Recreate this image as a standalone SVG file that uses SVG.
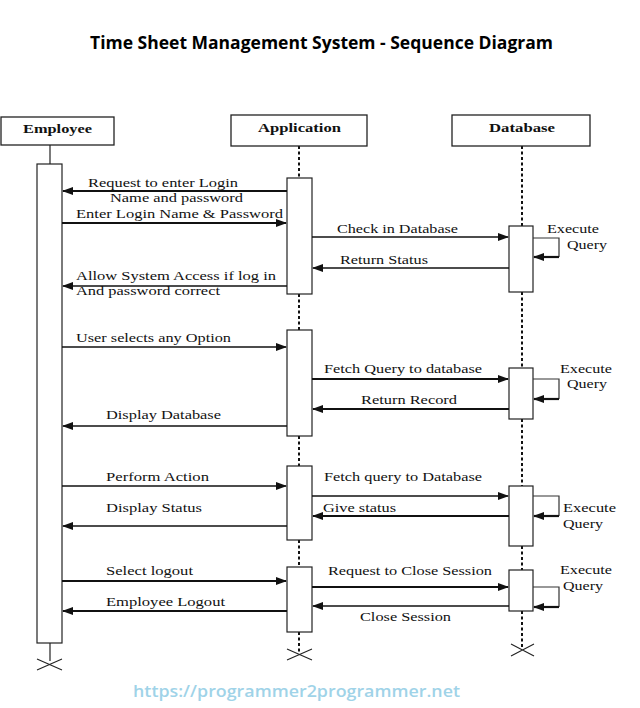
<svg xmlns="http://www.w3.org/2000/svg" width="640" height="708" viewBox="0 0 640 708">
<style>
.box{fill:#fff;stroke:#222;stroke-width:1.3}
.act{fill:#fff;stroke:#222;stroke-width:1.2}
.hdr{font-family:"Liberation Serif",serif;font-weight:bold;font-size:13px;fill:#111}
.lbl{font-family:"Liberation Serif",serif;font-size:13.5px;fill:#111}
.msg{stroke:#111;stroke-width:1.6;fill:none}
.msgb{stroke:#111;stroke-width:2.2;fill:none}
.loop{stroke:#333;stroke-width:1.2;fill:none}
.dash{stroke:#111;stroke-width:2;stroke-dasharray:3,2.5}
.solid{stroke:#222;stroke-width:1.2}
.x{stroke:#222;stroke-width:1.1}
</style>
<defs>
<marker id="ah" markerUnits="userSpaceOnUse" markerWidth="12" markerHeight="10" refX="10" refY="4" orient="auto">
<path d="M0,0 L11,4 L0,8 Z" fill="#111"/>
</marker>
</defs>
<rect width="640" height="708" fill="#fff"/>
<text x="321.5" y="49" text-anchor="middle" font-family="'Open Sans','Liberation Sans',sans-serif" font-weight="bold" font-size="17" textLength="463" lengthAdjust="spacingAndGlyphs" fill="#000">Time Sheet Management System - Sequence Diagram</text>

<g id="lifelines">
<line class="solid" x1="50" y1="145" x2="50" y2="164"/>
<line class="solid" x1="50" y1="643" x2="50" y2="661"/>
<line class="dash" x1="299" y1="146" x2="299" y2="178"/>
<line class="dash" x1="299" y1="294" x2="299" y2="330"/>
<line class="dash" x1="299" y1="436" x2="299" y2="466"/>
<line class="dash" x1="299" y1="540" x2="299" y2="567"/>
<line class="dash" x1="299" y1="632" x2="299" y2="654"/>
<line class="dash" x1="522" y1="146" x2="522" y2="226"/>
<line class="dash" x1="522" y1="292" x2="522" y2="368"/>
<line class="dash" x1="522" y1="419" x2="522" y2="486"/>
<line class="dash" x1="522" y1="546" x2="522" y2="570"/>
<line class="dash" x1="522" y1="611" x2="522" y2="648"/>
<path class="x" d="M37,659 L62,670 M37,670 L62,659"/>
<path class="x" d="M287,649 L312,660 M287,660 L312,649"/>
<path class="x" d="M511,644 L534,656 M511,656 L534,644"/>
</g>

<g id="employee">
<rect class="box" x="1" y="117" width="113" height="28"/>
<text class="hdr" x="57.5" y="133" text-anchor="middle" textLength="69" lengthAdjust="spacingAndGlyphs">Employee</text>
<rect class="act" x="37" y="164" width="25" height="479"/>
</g>

<g id="application">
<rect class="box" x="231" y="115" width="136" height="31"/>
<text class="hdr" x="299.5" y="132" text-anchor="middle" textLength="83" lengthAdjust="spacingAndGlyphs">Application</text>
<rect class="act" x="287" y="178" width="25" height="116"/>
<rect class="act" x="287" y="330" width="25" height="106"/>
<rect class="act" x="287" y="466" width="25" height="74"/>
<rect class="act" x="287" y="567" width="25" height="65"/>
</g>

<g id="database">
<rect class="box" x="452" y="115" width="138" height="31"/>
<text class="hdr" x="522" y="132" text-anchor="middle" textLength="66" lengthAdjust="spacingAndGlyphs">Database</text>
<rect class="act" x="509" y="226" width="24" height="66"/>
<rect class="act" x="509" y="368" width="24" height="51"/>
<rect class="act" x="509" y="486" width="24" height="60"/>
<rect class="act" x="509" y="570" width="24" height="41"/>
</g>

<g id="connectors">
<line class="msgb" x1="287" y1="191" x2="63" y2="191" marker-end="url(#ah)"/>
<line class="msgb" x1="62" y1="223" x2="286" y2="223" marker-end="url(#ah)"/>
<line class="msg" x1="312" y1="237" x2="508" y2="237" marker-end="url(#ah)"/>
<line class="msg" x1="509" y1="268" x2="313" y2="268" marker-end="url(#ah)"/>
<line class="msg" x1="287" y1="286" x2="63" y2="286" marker-end="url(#ah)"/>
<line class="msg" x1="62" y1="347" x2="286" y2="347" marker-end="url(#ah)"/>
<line class="msgb" x1="312" y1="379" x2="508" y2="379" marker-end="url(#ah)"/>
<line class="msgb" x1="509" y1="409" x2="313" y2="409" marker-end="url(#ah)"/>
<line class="msg" x1="287" y1="426" x2="63" y2="426" marker-end="url(#ah)"/>
<line class="msg" x1="62" y1="486" x2="286" y2="486" marker-end="url(#ah)"/>
<line class="msg" x1="312" y1="496" x2="508" y2="496" marker-end="url(#ah)"/>
<line class="msgb" x1="509" y1="516" x2="313" y2="516" marker-end="url(#ah)"/>
<line class="msg" x1="287" y1="526" x2="63" y2="526" marker-end="url(#ah)"/>
<line class="msgb" x1="62" y1="581" x2="286" y2="581" marker-end="url(#ah)"/>
<line class="msgb" x1="312" y1="587" x2="508" y2="587" marker-end="url(#ah)"/>
<line class="msg" x1="509" y1="606" x2="313" y2="606" marker-end="url(#ah)"/>
<line class="msgb" x1="287" y1="611" x2="63" y2="611" marker-end="url(#ah)"/>
<path class="loop" d="M533,238 H559 V257"/>
<line class="msgb" x1="559" y1="257" x2="534" y2="257" marker-end="url(#ah)"/>
<path class="loop" d="M533,379 H559 V399"/>
<line class="msgb" x1="559" y1="399" x2="534" y2="399" marker-end="url(#ah)"/>
<path class="loop" d="M533,496 H559 V516"/>
<line class="msgb" x1="559" y1="516" x2="534" y2="516" marker-end="url(#ah)"/>
<path class="loop" d="M533,587 H559 V607"/>
<line class="msgb" x1="559" y1="607" x2="534" y2="607" marker-end="url(#ah)"/>
</g>

<g id="labels">
<text class="lbl" x="88" y="187" textLength="150" lengthAdjust="spacingAndGlyphs">Request to enter Login</text>
<text class="lbl" x="110" y="202" textLength="133" lengthAdjust="spacingAndGlyphs">Name and password</text>
<text class="lbl" x="76" y="218" textLength="207" lengthAdjust="spacingAndGlyphs">Enter Login Name &amp; Password</text>
<text class="lbl" x="337" y="233" textLength="121" lengthAdjust="spacingAndGlyphs">Check in Database</text>
<text class="lbl" x="340" y="264" textLength="88" lengthAdjust="spacingAndGlyphs">Return Status</text>
<text class="lbl" x="76" y="280" textLength="200" lengthAdjust="spacingAndGlyphs">Allow System Access if log in</text>
<text class="lbl" x="76" y="295" textLength="144" lengthAdjust="spacingAndGlyphs">And password correct</text>
<text class="lbl" x="76" y="342" textLength="155" lengthAdjust="spacingAndGlyphs">User selects any Option</text>
<text class="lbl" x="324" y="373" textLength="158" lengthAdjust="spacingAndGlyphs">Fetch Query to database</text>
<text class="lbl" x="361" y="404" textLength="96" lengthAdjust="spacingAndGlyphs">Return Record</text>
<text class="lbl" x="106" y="419" textLength="115" lengthAdjust="spacingAndGlyphs">Display Database</text>
<text class="lbl" x="106" y="481" textLength="103" lengthAdjust="spacingAndGlyphs">Perform Action</text>
<text class="lbl" x="324" y="481" textLength="158" lengthAdjust="spacingAndGlyphs">Fetch query to Database</text>
<text class="lbl" x="323" y="512" textLength="73" lengthAdjust="spacingAndGlyphs">Give status</text>
<text class="lbl" x="106" y="512" textLength="96" lengthAdjust="spacingAndGlyphs">Display Status</text>
<text class="lbl" x="106" y="575" textLength="87" lengthAdjust="spacingAndGlyphs">Select logout</text>
<text class="lbl" x="328" y="575" textLength="164" lengthAdjust="spacingAndGlyphs">Request to Close Session</text>
<text class="lbl" x="360" y="621" textLength="91" lengthAdjust="spacingAndGlyphs">Close Session</text>
<text class="lbl" x="106" y="606" textLength="119" lengthAdjust="spacingAndGlyphs">Employee Logout</text>
<text class="lbl" x="547" y="233" textLength="52" lengthAdjust="spacingAndGlyphs">Execute</text>
<text class="lbl" x="567" y="249" textLength="40" lengthAdjust="spacingAndGlyphs">Query</text>
<text class="lbl" x="560" y="373" textLength="52" lengthAdjust="spacingAndGlyphs">Execute</text>
<text class="lbl" x="567" y="388" textLength="40" lengthAdjust="spacingAndGlyphs">Query</text>
<text class="lbl" x="563" y="512" textLength="53" lengthAdjust="spacingAndGlyphs">Execute</text>
<text class="lbl" x="563" y="528" textLength="40" lengthAdjust="spacingAndGlyphs">Query</text>
<text class="lbl" x="560" y="574" textLength="52" lengthAdjust="spacingAndGlyphs">Execute</text>
<text class="lbl" x="563" y="590" textLength="40" lengthAdjust="spacingAndGlyphs">Query</text>
</g>

<text x="133" y="697" font-family="'Open Sans','Liberation Sans',sans-serif" font-weight="600" font-size="17" textLength="327" lengthAdjust="spacingAndGlyphs" fill="#9fd3e8">https://programmer2programmer.net</text>
</svg>
